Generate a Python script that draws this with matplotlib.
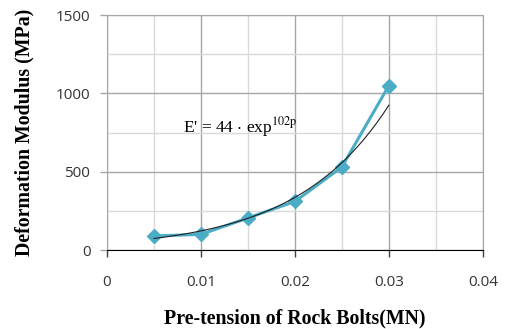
import numpy as np
import matplotlib
matplotlib.use("Agg")
import matplotlib.pyplot as plt
from matplotlib.ticker import MultipleLocator

# measured points
pretension = [0.005, 0.010, 0.015, 0.020, 0.025, 0.030]
modulus = [90, 100, 205, 310, 530, 1050]

x_ticks = [0, 0.01, 0.02, 0.03, 0.04]
x_tick_labels = ["0", "0.01", "0.02", "0.03", "0.04"]
y_ticks = [0, 500, 1000, 1500]

LINE = "#4bacc6"
MAJOR = "#a6a6a6"
MINOR = "#d9d9d9"

plt.rcParams["mathtext.fontset"] = "stix"

fig = plt.figure(figsize=(5.05, 3.29), dpi=100)
ax = fig.add_axes([0.212, 0.240, 0.744, 0.714])

# exponential trendline (log-linear fit, like Excel)
b, ln_a = np.polyfit(pretension, np.log(modulus), 1)
xs = np.linspace(pretension[0], pretension[-1], 100)
ax.plot(xs, np.exp(ln_a) * np.exp(b * xs), color="#202020", lw=0.8, zorder=4)

ax.plot(pretension, modulus, color=LINE, lw=2.2, marker="D", markersize=7,
        markeredgecolor=LINE, zorder=3)

ax.set_xlim(0, 0.04)
ax.set_ylim(0, 1500)
ax.set_xticks(x_ticks)
ax.set_xticklabels(x_tick_labels)
ax.set_yticks(y_ticks)
ax.xaxis.set_minor_locator(MultipleLocator(0.005))
ax.yaxis.set_minor_locator(MultipleLocator(250))
ax.grid(which="major", color=MAJOR, lw=1)
ax.grid(which="minor", color=MINOR, lw=1)
ax.set_axisbelow(True)
ax.tick_params(which="minor", length=0)
ax.tick_params(axis="x", which="major", length=5, width=1, color="#404040",
               pad=13, labelsize=11, labelcolor="#333333")
ax.tick_params(axis="y", which="major", length=5, width=1, color=MAJOR,
               pad=7, labelsize=11, labelcolor="#333333")
for lab in ax.get_xticklabels() + ax.get_yticklabels():
    lab.set_family("Open Sans")

for side in ["top", "right", "left"]:
    ax.spines[side].set_color(MAJOR)
ax.spines["bottom"].set_color("black")
ax.spines["bottom"].set_zorder(5)

ax.set_xlabel("Pre-tension of Rock Bolts(MN)", family="Liberation Serif",
              fontweight="bold", fontsize=14.3, labelpad=13)
ax.set_ylabel("Deformation Modulus (MPa)", family="Liberation Serif",
              fontweight="bold", fontsize=14.3, labelpad=15)

ax.text(0.0081, 785, r"E' = 44 $\cdot$ exp$^{\mathrm{102p}}$",
        family="Liberation Serif", fontsize=12.5, ha="left", va="center")

fig.savefig("out.png", dpi=100)
